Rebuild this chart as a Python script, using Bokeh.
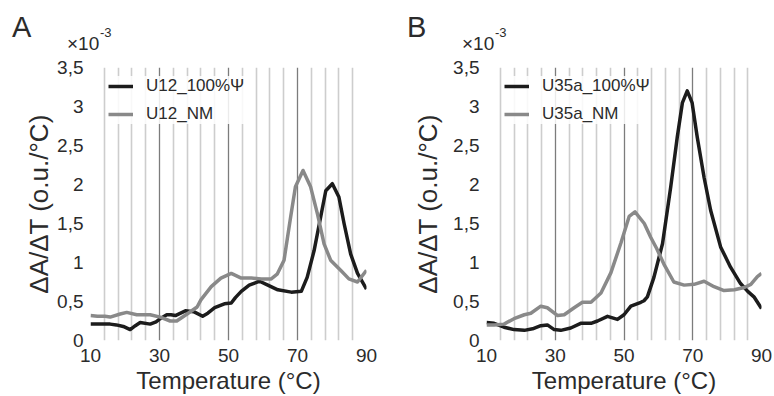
from bokeh.plotting import figure
from bokeh.models import FixedTicker, CustomJSTickFormatter, Legend, LegendItem, Div
from bokeh.layouts import row, column
from bokeh.embed import file_html
from bokeh.resources import INLINE

# ---------------- data (values in units of 1e-3) ----------------
x_ticks = [10, 30, 50, 70, 90]
x_minor = [14, 18, 22, 26, 34, 38, 42, 46, 54, 58, 62, 66, 74, 78, 82, 86]
y_ticks = [0, 0.5, 1, 1.5, 2, 2.5, 3, 3.5]

u12_psi_t = [10, 13, 15.7, 17.5, 19.5, 21.5, 23, 24.4, 27.3, 29, 30.2, 32.1, 33.3, 34.6, 37.5,
             39.9, 42.5, 44, 46, 48.8, 50.8, 52, 53.7, 56, 59, 61.4, 64.3, 68.2, 71.1, 72.8,
             74.8, 76.7, 78.2, 80.1, 82, 83.5, 85.4, 87.4, 90]
u12_psi_v = [0.21, 0.21, 0.21, 0.20, 0.18, 0.14, 0.19, 0.23, 0.21, 0.24, 0.28, 0.33, 0.33, 0.32, 0.38,
             0.37, 0.31, 0.35, 0.42, 0.47, 0.48, 0.55, 0.63, 0.71, 0.76, 0.71, 0.65, 0.62, 0.63, 0.81,
             1.15, 1.58, 1.92, 2.01, 1.84, 1.50, 1.11, 0.86, 0.66]

u12_nm_t = [10, 12, 14.2, 15.7, 18.6, 20.5, 23.4, 27.3, 30.2, 33.1, 35, 38, 40.9, 42, 45, 47.8,
            50.8, 53.7, 56.6, 59.5, 62.4, 64.1, 66.1, 68, 69.4, 71.6, 73.8, 75.8, 77.7, 79.6,
            82.5, 84.9, 87.4, 90]
u12_nm_v = [0.32, 0.31, 0.31, 0.30, 0.34, 0.36, 0.33, 0.33, 0.30, 0.25, 0.25, 0.34, 0.43, 0.52, 0.69, 0.80,
            0.86, 0.80, 0.80, 0.79, 0.79, 0.85, 1.03, 1.58, 1.97, 2.18, 1.97, 1.62, 1.24, 1.03,
            0.90, 0.79, 0.75, 0.90]

u35a_psi_t = [10, 12.2, 15.1, 18, 21, 23.4, 25.8, 27.7, 29.7, 31.6, 34.5, 37.4, 40.4, 42.3, 45.2,
              48.1, 50, 52, 54.9, 55.8, 56.8, 58.7, 61.2, 63.6, 65.5, 67, 68.4, 69.8, 71.3, 73.3,
              75.2, 78.1, 81, 83.9, 86, 87.8, 90]
u35a_psi_v = [0.23, 0.22, 0.17, 0.14, 0.13, 0.15, 0.19, 0.20, 0.14, 0.13, 0.16, 0.22, 0.22, 0.25, 0.31,
              0.27, 0.33, 0.44, 0.49, 0.51, 0.56, 0.81, 1.24, 1.97, 2.61, 3.05, 3.20, 3.05, 2.61, 2.09,
              1.67, 1.20, 0.94, 0.73, 0.63, 0.56, 0.41]

u35a_nm_t = [10, 12.2, 15.1, 18, 21, 22.9, 25.8, 27.7, 30.7, 32.6, 35.5, 37.9, 40.4, 43.3, 46.2,
             49.1, 51.5, 53.2, 55.9, 57.8, 59.5, 61.6, 64.5, 67.5, 70.4, 73.3, 76.2, 79.1, 82.1,
             85, 86.9, 88.8, 90]
u35a_nm_v = [0.20, 0.20, 0.21, 0.28, 0.33, 0.35, 0.44, 0.42, 0.32, 0.33, 0.42, 0.49, 0.49, 0.61, 0.87,
             1.25, 1.59, 1.65, 1.50, 1.32, 1.18, 0.98, 0.75, 0.71, 0.72, 0.76, 0.69, 0.64, 0.65,
             0.68, 0.72, 0.82, 0.86]

panel_letters = ["A", "B"]
series_names = [["U12_100%Ψ", "U12_NM"], ["U35a_100%Ψ", "U35a_NM"]]
x_label = "Temperature (°C)"
y_label = "ΔA/ΔT (o.u./°C)"
scale_note = ["×10", "-3"]

FONT = "Liberation Sans"
TXT = "#2b2b2b"
DARK = "#1c1c1c"
GREY = "#898989"

HEADER_H = 56


def make_panel(names, ta, va, tb, vb, b_left, b_right, ylab_standoff):
    p = figure(width=387, height=396 - HEADER_H, x_range=(10, 90), y_range=(0, 3.5),
               output_backend="svg", toolbar_location=None,
               min_border_left=b_left, min_border_right=b_right,
               min_border_top=11, min_border_bottom=56)
    p.outline_line_color = None
    p.background_fill_color = "white"
    p.border_fill_color = "white"

    # grid
    p.xgrid.ticker = FixedTicker(ticks=x_ticks, minor_ticks=x_minor)
    p.xgrid.grid_line_color = "#7c7c7c"
    p.xgrid.grid_line_width = 1.3
    p.xgrid.minor_grid_line_color = "#cdcdcd"
    p.xgrid.minor_grid_line_width = 1.6
    p.ygrid.grid_line_color = None

    # axes
    for ax in (p.xaxis[0], p.yaxis[0]):
        ax.axis_line_color = None
        ax.major_tick_line_color = None
        ax.minor_tick_line_color = None
        ax.major_tick_out = 0
        ax.major_tick_in = 0
        ax.minor_tick_out = 0
        ax.minor_tick_in = 0
        ax.major_label_text_font = FONT
        ax.major_label_text_color = TXT
        ax.major_label_text_font_size = "19px"
        ax.axis_label_text_font = FONT
        ax.axis_label_text_color = TXT
        ax.axis_label_text_font_style = "normal"

    p.xaxis.ticker = FixedTicker(ticks=x_ticks)
    p.xaxis.major_label_standoff = 8
    p.xaxis.axis_label = x_label
    p.xaxis.axis_label_text_font_size = "24px"
    p.xaxis.axis_label_standoff = 2

    p.yaxis.ticker = FixedTicker(ticks=y_ticks)
    p.yaxis.formatter = CustomJSTickFormatter(code="return String(tick).replace('.', ',');")
    p.yaxis.major_label_standoff = 7
    p.yaxis.axis_label = y_label
    p.yaxis.axis_label_text_font_size = "26px"
    p.yaxis.axis_label_standoff = ylab_standoff

    ra = p.line(ta, va, line_color=DARK, line_width=3.5, line_join="round")
    rb = p.line(tb, vb, line_color=GREY, line_width=3.5, line_join="round")

    legend = Legend(items=[LegendItem(label=names[0], renderers=[ra]),
                           LegendItem(label=names[1], renderers=[rb])],
                    location=(18, 216))
    legend.padding = 6
    legend.spacing = 8
    legend.glyph_width = 25
    legend.glyph_height = 20
    legend.label_height = 20
    legend.label_standoff = 13
    legend.label_text_font = FONT
    legend.label_text_font_size = "17px"
    legend.label_text_color = TXT
    legend.background_fill_color = "white"
    legend.background_fill_alpha = 0.85
    legend.border_line_color = None
    p.add_layout(legend)
    return p


p1 = make_panel(series_names[0], u12_psi_t, u12_psi_v, u12_nm_t, u12_nm_v, 90, 21, 0)
p2 = make_panel(series_names[1], u35a_psi_t, u35a_psi_v, u35a_nm_t, u35a_nm_v, 99, 13, 7)

span = "position:absolute;white-space:nowrap;"
header_html = (
    f'<div style="position:relative;width:774px;height:{HEADER_H}px;'
    f'font-family:\'{FONT}\',sans-serif;color:{TXT};line-height:1;">'
    f'<span style="{span}left:12px;top:13px;font-size:29px;">{panel_letters[0]}</span>'
    f'<span style="{span}left:67px;top:34px;font-size:19px;">{scale_note[0]}</span>'
    f'<span style="{span}left:100px;top:26px;font-size:13px;">{scale_note[1]}</span>'
    f'<span style="{span}left:407px;top:13px;font-size:29px;">{panel_letters[1]}</span>'
    f'<span style="{span}left:462px;top:34px;font-size:19px;">{scale_note[0]}</span>'
    f'<span style="{span}left:495px;top:26px;font-size:13px;">{scale_note[1]}</span>'
    '</div>'
)
header = Div(text=header_html, width=774, height=HEADER_H, margin=0)

layout = column(header, row(p1, p2, spacing=0), spacing=0)
open("out.html", "w").write(file_html(layout, INLINE))
